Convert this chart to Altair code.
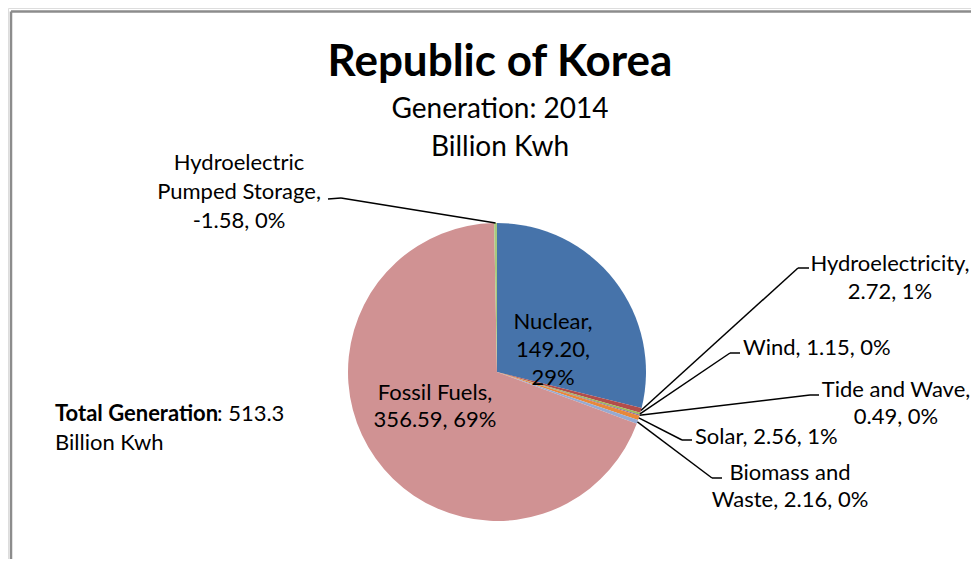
import altair as alt
import pandas as pd
import numpy as np

# ---------------- data ----------------
categories = ["Nuclear", "Hydroelectricity", "Wind", "Tide and Wave", "Solar",
              "Biomass  and Waste", "Fossil Fuels", "Hydroelectric Pumped Storage"]
values = [149.20, 2.72, 1.15, 0.49, 2.56, 2.16, 356.59, -1.58]
percents = ["29%", "1%", "0%", "0%", "1%", "0%", "69%", "0%"]
colors = ["#4673AA", "#B24D4B", "#9BBB59", "#8064A2", "#E8883A",
          "#96AAD2", "#D09293", "#A8C97E"]
total_value = "513.3"
title_text = "Republic of Korea"
subtitle_lines = ["Generation: 2014", "Billion Kwh"]

# ---------------- layout (page px -> chart px) ----------------
M = 8
FONT = "Lato"
FS = 22
W, H = 979 - 2 * M, 567 - 2 * M
CX, CY, R = 497 - M, 372 - M, 149


def P(x, y):
    return x - M, y - M


df = pd.DataFrame({
    "cat": categories,
    "val": values,
    "absval": np.abs(values),
    "idx": list(range(len(values))),
})

absv = np.abs(np.array(values))
cum = np.cumsum(absv)
mid = (cum - absv / 2) / absv.sum() * 2 * np.pi
anchors = {c: (CX + R * np.sin(a), CY - R * np.cos(a)) for c, a in zip(categories, mid)}

# leader: elbow point, end point (page coords)
leaders = {
    "Hydroelectricity": ((798, 268), (809, 268)),
    "Wind": ((730, 353), (740, 353)),
    "Tide and Wave": ((810, 395), (819, 395)),
    "Solar": ((682, 440), (692, 440)),
    "Biomass  and Waste": ((712, 478), (722, 478)),
    "Hydroelectric Pumped Storage": ((341, 198), (328, 199)),
}
segs = []
for c, (e, f) in leaders.items():
    ax, ay = anchors[c]
    ex, ey = P(*e)
    fx, fy = P(*f)
    segs.append({"x": ax, "y": ay, "x2": ex, "y2": ey})
    segs.append({"x": ex, "y": ey, "x2": fx, "y2": fy})
seg_df = pd.DataFrame(segs)

V = dict(zip(categories, values))
Pc = dict(zip(categories, percents))

center_texts = [
    ("Hydroelectric", 239, 163), ("Pumped Storage,", 239, 192),
    (f"{V['Hydroelectric Pumped Storage']:.2f}, {Pc['Hydroelectric Pumped Storage']}", 239, 221),
    ("Hydroelectricity,", 890, 264), (f"{V['Hydroelectricity']:.2f}, {Pc['Hydroelectricity']}", 890, 292),
    ("Tide and Wave,", 896, 390), (f"{V['Tide and Wave']:.2f}, {Pc['Tide and Wave']}", 896, 417),
    ("Biomass  and", 790, 473), (f"Waste, {V['Biomass  and Waste']:.2f}, {Pc['Biomass  and Waste']}", 790, 500),
    ("Nuclear,", 553, 322), (f"{V['Nuclear']:.2f},", 553, 350), (Pc["Nuclear"], 553, 378),
    ("Fossil Fuels,", 435, 393), (f"{V['Fossil Fuels']:.2f}, {Pc['Fossil Fuels']}", 435, 420),
]
left_texts = [
    (f"Wind, {V['Wind']:.2f}, {Pc['Wind']}", 743, 348),
    (f"Solar, {V['Solar']:.2f}, {Pc['Solar']}", 695, 437),
    (f": {total_value}", 217, 414),
    ("Billion Kwh", 55, 443),
]


def tdf(items):
    rows = []
    for t, x, y in items:
        px, py = P(x, y)
        rows.append({"t": t, "x": px, "y": py})
    return pd.DataFrame(rows)


XS = dict(scale=None, axis=None)

border = alt.Chart(pd.DataFrame([
    {"x": 3, "y": 3.5, "x2": W, "y2": 3.5},
    {"x": 3, "y": 3.5, "x2": 3, "y2": H},
])).mark_rule(color="#8C8C8C", strokeWidth=2.5).encode(
    x=alt.X("x:Q", **XS), y=alt.Y("y:Q", **XS), x2="x2:Q", y2="y2:Q")

pie = alt.Chart(df).mark_arc(outerRadius=R).encode(
    theta=alt.Theta("absval:Q", stack=True),
    color=alt.Color("cat:N", scale=alt.Scale(domain=categories, range=colors), legend=None),
    order=alt.Order("idx:Q", sort="ascending"),
    x=alt.value(CX), y=alt.value(CY),
)

lines = alt.Chart(seg_df).mark_rule(color="black", strokeWidth=1.5).encode(
    x=alt.X("x:Q", **XS), y=alt.Y("y:Q", **XS), x2="x2:Q", y2="y2:Q")

ctext = alt.Chart(tdf(center_texts)).mark_text(
    font=FONT, fontSize=FS, align="center", baseline="middle", color="black").encode(
    x=alt.X("x:Q", **XS), y=alt.Y("y:Q", **XS), text="t:N")

ltext = alt.Chart(tdf(left_texts)).mark_text(
    font=FONT, fontSize=FS, align="left", baseline="middle", color="black").encode(
    x=alt.X("x:Q", **XS), y=alt.Y("y:Q", **XS), text="t:N")

btext = alt.Chart(tdf([("Total Generation", 55, 414)])).mark_text(
    font=FONT, fontSize=FS, fontWeight="bold", align="left", baseline="middle", color="black").encode(
    x=alt.X("x:Q", **XS), y=alt.Y("y:Q", **XS), text="t:N")

ttext = alt.Chart(tdf([(title_text, 500, 63)])).mark_text(
    font=FONT, fontSize=44, fontWeight="bold", align="center", baseline="middle", color="black").encode(
    x=alt.X("x:Q", **XS), y=alt.Y("y:Q", **XS), text="t:N")

stext = alt.Chart(tdf([(subtitle_lines[0], 500, 110), (subtitle_lines[1], 500, 148)])).mark_text(
    font=FONT, fontSize=28, align="center", baseline="middle", color="black").encode(
    x=alt.X("x:Q", **XS), y=alt.Y("y:Q", **XS), text="t:N")

chart = alt.layer(border, pie, lines, ctext, ltext, btext, ttext, stext).properties(
    width=W, height=H,
    autosize=alt.AutoSizeParams(type="none"),
    padding=0,
).configure_view(strokeWidth=0).configure(background="white")

chart.save("out.html", embed_options={"renderer": "svg", "actions": False})
